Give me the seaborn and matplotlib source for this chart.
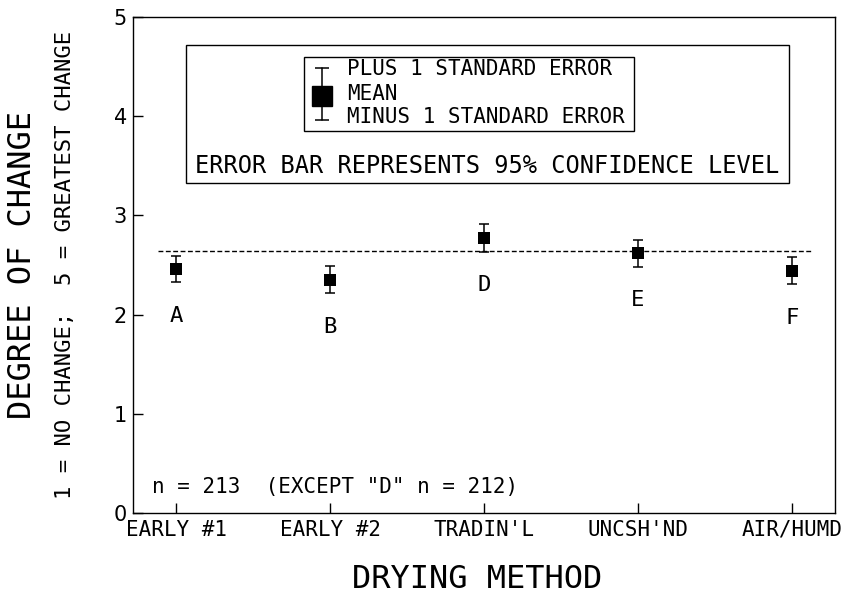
import pandas as pd
import matplotlib.pyplot as plt
import matplotlib.patches as mpatches
import seaborn as sns

# --- data ---
methods = ["EARLY #1", "EARLY #2", "TRADIN'L", "UNCSH'ND", "AIR/HUMD"]
group_letters = ["A", "B", "D", "E", "F"]
means = [2.46, 2.35, 2.77, 2.62, 2.44]
std_errs = [0.135, 0.137, 0.14, 0.136, 0.136]
grand_mean = 2.64
y_ticks = [0, 1, 2, 3, 4, 5]

df = pd.DataFrame({"method": methods, "mean": means, "se": std_errs, "letter": group_letters})

sns.set_style("white")
plt.rcParams["font.family"] = ["DejaVu Sans Mono", "DejaVu Sans"]
plt.rcParams["text.color"] = "black"
plt.rcParams["axes.labelcolor"] = "black"
mono = "DejaVu Sans Mono"

fig = plt.figure(figsize=(8.43, 6.11), dpi=100)
ax = fig.add_axes([0.1578, 0.1604, 0.8327, 0.8118])

# means as filled squares
sns.scatterplot(data=df, x="method", y="mean", marker="s", s=75, color="black",
                edgecolor="black", linewidth=0, zorder=4, ax=ax)
# +/- 1 standard error
ax.errorbar(df["method"], df["mean"], yerr=df["se"], fmt="none", ecolor="black",
            elinewidth=1.1, capsize=3.6, capthick=1.1, zorder=3)

# overall mean, dashed
ax.axhline(grand_mean, xmin=0.036, xmax=0.969, color="black", linewidth=1.0,
           linestyle=(0, (3.5, 1.8)), zorder=2)

# group letters under each point
for i, row in df.iterrows():
    ax.annotate(row["letter"], (i, row["mean"]), xytext=(0, -34), textcoords="offset points",
                ha="center", va="center", fontsize=16, family=mono, color="black")

ax.set_xlim(-0.28, 4.28)
ax.set_ylim(0, 5)
ax.set_yticks(y_ticks)
ax.set_yticklabels([str(t) for t in y_ticks], family="DejaVu Sans", fontsize=15)
ax.set_xticks(range(len(methods)))
ax.set_xticklabels(methods, family=mono, fontsize=15)
ax.tick_params(axis="both", direction="in", length=7, width=1, colors="black",
               left=True, bottom=True, top=False, right=False)
ax.tick_params(axis="x", pad=5)
ax.tick_params(axis="y", pad=4.5)
ax.set_xlabel("")
ax.set_ylabel("")
for sp in ax.spines.values():
    sp.set_visible(True)
    sp.set_color("black")
    sp.set_linewidth(1.0)

# axis titles
fig.text(477 / 843, 1 - 580 / 611, "DRYING METHOD", ha="center", va="center",
         fontsize=23, family=mono)
fig.text(23 / 843, 1 - 265 / 611, "DEGREE OF CHANGE", ha="center", va="center",
         rotation=90, fontsize=23, family=mono)
fig.text(65 / 843, 1 - 265 / 611, "1 = NO CHANGE;  5 = GREATEST CHANGE", ha="center",
         va="center", rotation=90, fontsize=16, family=mono)

# key boxes
ax.add_patch(mpatches.Rectangle((0.0755, 0.665), 0.859, 0.2785, transform=ax.transAxes,
                                fill=False, edgecolor="black", linewidth=1.0, zorder=5))
ax.add_patch(mpatches.Rectangle((0.2436, 0.770), 0.4701, 0.149, transform=ax.transAxes,
                                fill=False, edgecolor="black", linewidth=1.0, zorder=5))

# key glyph: error bar with a mean square
kx = 0.269
ax.plot([kx, kx], [0.792, 0.897], color="black", linewidth=1.1, transform=ax.transAxes)
ax.plot([kx, kx], [0.792, 0.897], linestyle="none", marker="_", markersize=9.5,
        markeredgewidth=1.1, color="black", transform=ax.transAxes)
ax.plot([kx], [0.840], linestyle="none", marker="s", markersize=14, color="black",
        transform=ax.transAxes)

key_rows = [("PLUS 1 STANDARD ERROR", 0.895), ("MEAN", 0.844), ("MINUS 1 STANDARD ERROR", 0.798)]
for txt, yy in key_rows:
    ax.text(0.305, yy, txt, transform=ax.transAxes, ha="left", va="center",
            fontsize=15, family=mono)
ax.text(0.504, 0.70, "ERROR BAR REPRESENTS 95% CONFIDENCE LEVEL", transform=ax.transAxes,
        ha="center", va="center", fontsize=17, family=mono)

ax.text(0.027, 0.26 / 5, 'n = 213  (EXCEPT "D" n = 212)', transform=ax.transAxes,
        ha="left", va="center", fontsize=15, family=mono)

fig.savefig("out.png", dpi=100)
